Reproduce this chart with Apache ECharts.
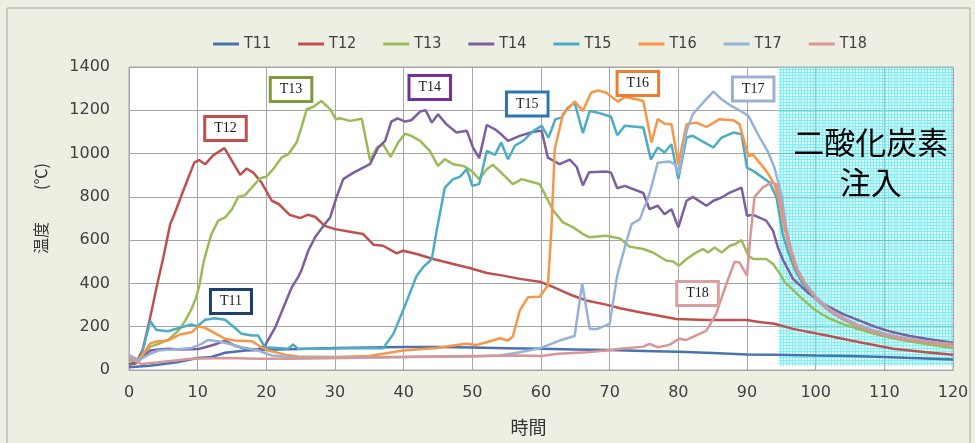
<!DOCTYPE html>
<html>
<head>
<meta charset="utf-8">
<script src="https://cdn.jsdelivr.net/npm/echarts@6/dist/echarts.min.js"></script>
<style>
html,body{margin:0;padding:0;background:#ECEFE1;}
#chart{width:975px;height:443px;}
</style>
</head>
<body>
<div id="chart"></div>
<script>
// Sensor names and temperature readings [minutes, °C]
const sensorNames = ['T11', 'T12', 'T13', 'T14', 'T15', 'T16', 'T17', 'T18'];
const xTicks = { min: 0, max: 120, step: 10 };
const yTicks = { min: 0, max: 1400, step: 200 };
const co2Start = 94.6;  // CO2 injection begins (minutes)

const T11 = [[0,13],[3,20],[7,36],[10,55],[12,60],[14,80],[17,90],[20,94],[25,97],[30,102],[35,104],[40,106],[45,106],[50,104],[55,101],[60,98],[65,95],[70,92],[75,88],[80,84],[85,78],[90,72],[94,70],[100,67],[105,65],[110,60],[115,54],[120,48]];

const T12 = [[0,25],[1,30],[2,95],[3,230],[4,380],[5,520],[6,674],[6.7,728],[7.9,828],[9.5,958],[10.2,970],[11.1,951],[12.3,993],[13.9,1025],[16.2,902],[17.1,931],[18.1,912],[19.3,866],[20.8,782],[21.8,767],[23.4,717],[24.9,702],[26,717],[27.1,708],[28.5,666],[30,651],[32.6,636],[34.1,628],[35.6,579],[37,574],[39,539],[39.9,551],[41.9,536],[44.3,513],[47.2,490],[49.6,471],[52.1,448],[54.5,436],[56.9,421],[59.8,408],[61.3,390],[64.6,344],[66.6,321],[69.5,302],[71.5,285],[74.4,267],[75.8,259],[79.7,236],[84.1,231],[89.9,231],[91.8,222],[94,214],[96.7,190],[101.6,159],[106.4,128],[111.3,98],[116.1,82],[120,71]];

const T13 = [[0,40],[1.4,52],[3.1,108],[4.3,121],[5.7,139],[7.2,182],[8.2,228],[9.1,282],[9.8,336],[10.3,398],[10.8,490],[11.3,551],[12,628],[13,690],[14,705],[15,743],[15.9,800],[16.9,808],[18.1,851],[19.1,886],[20,893],[21,928],[22.2,981],[23.2,997],[24.4,1051],[25.1,1120],[25.9,1205],[26.8,1215],[28,1243],[29.3,1205],[30.1,1159],[30.7,1163],[32.2,1151],[33.9,1161],[35.1,969],[36.1,1028],[37,1043],[38.1,985],[39.2,1051],[40.2,1092],[41.1,1082],[42.4,1059],[43.8,1012],[45,943],[46,974],[47.2,951],[48.7,943],[49.9,920],[51,882],[52.1,928],[53,948],[54.2,912],[55.9,859],[57.2,882],[58.9,866],[59.8,859],[61.8,736],[63.2,682],[64.7,659],[66.1,628],[67.1,613],[69.5,620],[71.5,608],[72.9,570],[74.9,559],[76.3,543],[78.3,505],[79.2,502],[80.1,482],[81.2,513],[82.6,543],[83.6,559],[84.3,543],[85.3,566],[86.3,543],[87.5,574],[88.3,582],[89.2,600],[90.2,528],[90.9,513],[92.8,513],[93.8,490],[94.8,444],[95.5,405],[96.2,385],[98,330],[100,275],[102,238],[104,212],[106,192],[108,172],[110,156],[112,142],[114,131],[116,120],[118,111],[120,102]];

const T14 = [[0,25],[1.4,44],[3.1,90],[4.3,95],[5.7,98],[7.4,95],[9.1,96],[10.1,97],[11.1,105],[12.5,118],[14,136],[15.4,113],[16.9,98],[18.8,95],[19.8,113],[21.3,197],[22.7,305],[23.7,382],[24.6,428],[25.1,459],[26.1,551],[27.1,613],[28.5,674],[29.3,705],[30.2,797],[31.2,882],[32.7,912],[34.1,935],[35.1,951],[36.3,1028],[37.3,1059],[38.2,1148],[39.1,1163],[40.2,1148],[41.1,1154],[42.4,1194],[43.2,1200],[44.1,1143],[45,1182],[46.2,1136],[47.7,1097],[49.2,1105],[50.1,1028],[51,979],[52.1,1132],[53.3,1112],[54.2,1089],[55.2,1059],[56.9,1082],[58.9,1101],[60.1,1105],[61,981],[62.7,951],[64.2,972],[65.2,938],[66.1,853],[67,914],[69.5,917],[70.2,912],[71.1,840],[72.2,851],[74.9,818],[75.8,743],[77,759],[78,720],[79,743],[80,659],[81.2,782],[82.1,800],[84.1,759],[85.1,782],[86.3,797],[87.5,820],[89.2,843],[90,713],[90.9,717],[92.8,690],[93.8,643],[94.5,566],[95.3,505],[96.7,421],[99.1,351],[101.6,297],[104,258],[106.4,228],[108.8,198],[111.3,174],[113.7,157],[116.1,144],[120,126]];

const T15 = [[0,65],[1.6,44],[3.1,225],[4,185],[5.7,179],[7.4,195],[9.1,210],[9.9,201],[11.1,232],[12.5,239],[14,232],[15.4,195],[16.4,167],[17.9,159],[18.8,159],[19.8,105],[23.2,98],[23.9,118],[24.6,98],[28,98],[31.4,101],[35,100],[37,100],[38.5,167],[39.9,274],[41.9,436],[42.8,474],[44.1,513],[44.8,643],[46,843],[47.2,882],[48.2,893],[49.2,928],[50,851],[51,859],[52.1,1012],[53.3,994],[54.2,1051],[55.2,974],[56.2,1036],[57.4,1059],[58.9,1105],[60.1,1128],[61.1,1074],[62.1,1159],[63,1166],[63.9,1212],[64.9,1235],[66.1,1095],[67.1,1197],[68.3,1189],[70.2,1170],[71.1,1085],[72.2,1128],[74.9,1120],[76,972],[77,1028],[78,1005],[79,1043],[80,882],[81.2,1074],[82.1,1082],[85.1,1028],[86.3,1074],[88,1097],[89.2,1089],[90,935],[90.9,920],[93.3,866],[94.3,797],[95.2,628],[96,545],[97,462],[98,405],[100,328],[102,272],[104,234],[106,204],[108,181],[110,163],[112,149],[114,138],[116,129],[118,122],[120,115]];

const T16 = [[0,60],[1.5,45],[3.1,124],[4.3,133],[5.7,136],[7.4,164],[9.1,174],[10.1,201],[11.1,195],[12.5,170],[14,144],[15.4,136],[17.9,133],[19.3,105],[20.3,90],[22.7,71],[24.6,62],[30,60],[35,65],[37,75],[39.9,90],[44.8,102],[47.2,113],[49.1,121],[50.6,116],[52.1,128],[54,147],[55.2,136],[55.9,155],[56.9,274],[58.1,336],[59.8,339],[61,390],[61.5,640],[62,1020],[63.2,1182],[64.9,1240],[66.1,1197],[67.3,1281],[68.3,1292],[69.5,1281],[71.2,1240],[72.2,1261],[73.9,1251],[74.9,1243],[76.1,1051],[77,1159],[78,1138],[79,1136],[80,951],[81.2,1136],[82.6,1143],[84.1,1123],[86,1159],[88,1154],[88.9,1136],[90.2,989],[90.9,994],[92.8,920],[94,859],[94.8,767],[95.5,650],[96.2,560],[97,480],[98,418],[100,336],[102,279],[104,240],[106,209],[108,185],[110,167],[112,152],[114,141],[116,133],[118,126],[120,120]];

const T17 = [[0,70],[1.4,44],[3.1,75],[4.3,90],[5.7,93],[9.1,102],[10.6,121],[11.5,139],[13,133],[14.5,121],[16.4,105],[18.8,90],[20.8,67],[23.7,59],[30,58],[40,60],[50,62],[54,67],[56.9,82],[59.8,100],[62.7,136],[64.9,157],[66,400],[67.1,190],[68.2,190],[70,213],[71.1,436],[72.4,590],[73.2,674],[74.4,697],[75.8,813],[77,958],[78.7,963],[79.5,951],[80.1,905],[81.2,1105],[82.1,1182],[83.6,1235],[85.1,1286],[86.3,1251],[87.7,1220],[88.9,1200],[90.2,1174],[91.6,1089],[93.1,1005],[94,935],[95,813],[95.7,660],[96.5,550],[97.3,470],[98.5,400],[100,340],[102,282],[104,242],[106,211],[108,187],[110,169],[112,154],[114,142],[116,133],[118,125],[120,118]];

const T18 = [[0,55],[1.8,28],[4.3,36],[9.1,52],[14,56],[18.8,52],[23.7,52],[31.4,56],[44,62],[56.9,67],[60,65],[62.5,75],[66.6,82],[69.5,90],[71.5,98],[74.9,108],[75.8,121],[77,105],[78.7,116],[80.1,144],[81.2,139],[84.1,182],[85.5,259],[87,398],[88.2,500],[88.9,497],[90,436],[90.5,620],[91.1,800],[92.3,843],[93.5,866],[94.3,859],[95,760],[95.7,640],[96.5,540],[97.3,465],[98.5,398],[100,330],[102,274],[104,235],[106,205],[108,181],[110,163],[112,149],[114,138],[116,129],[118,121],[120,113]];

const sensorData = [T11, T12, T13, T14, T15, T16, T17, T18];
const lineColors = ['#4A72AE', '#C0504D', '#9BBB59', '#7D5FA0', '#4BACC6', '#F79646', '#95B3D7', '#D99694'];
const boxColors  = ['#1F3F6E', '#C0504D', '#7F9A3C', '#7030A0', '#2E75B6', '#ED7D31', '#9DB0CE', '#D9A0A0'];
// callout anchor for each sensor tag, in axis units
const tagAt = [[14.85,316],[14.05,1116],[23.6,1296],[43.8,1305],[58.0,1229],[74.1,1324],[90.9,1298],[82.8,353]];

// small tiled texture for the CO2 injection window
function hatch() {
  const c = document.createElement('canvas');
  c.width = 3; c.height = 3;
  const g = c.getContext('2d');
  g.fillStyle = 'rgba(40,232,242,0.62)';
  g.fillRect(0, 0, 3, 3);
  g.clearRect(1, 1, 2, 2);
  g.fillStyle = 'rgba(190,250,252,0.35)';
  g.fillRect(1, 1, 2, 2);
  return c;
}

const chart = echarts.init(document.getElementById('chart'), null, { renderer: 'canvas' });

const series = sensorNames.map((name, i) => ({
  name,
  type: 'line',
  data: sensorData[i],
  showSymbol: false,
  symbol: 'none',
  z: 2,
  lineStyle: { width: 2.5, color: lineColors[i] },
  itemStyle: { color: lineColors[i] },
  markPoint: {
    symbol: 'circle',
    symbolSize: 0,
    silent: true,
    data: [{ coord: tagAt[i] }],
    label: {
      show: true,
      position: 'inside',
      formatter: name,
      fontFamily: 'Liberation Serif',
      fontSize: 14,
      color: '#1a1a1a',
      backgroundColor: '#ffffff',
      borderColor: boxColors[i],
      borderWidth: 3,
      padding: [4, 8, 3, 8]
    }
  }
}));

series.push({
  name: 'co2',
  type: 'line',
  data: [],
  z: 5,
  silent: true,
  markArea: {
    silent: true,
    itemStyle: { color: { image: hatch(), repeat: 'repeat' } },
    label: {
      show: true,
      position: 'inside',
      formatter: '二酸化炭素\n注入',
      fontFamily: 'Noto Sans CJK JP',
      fontSize: 31,
      lineHeight: 40,
      color: '#000',
      offset: [5, -54]
    },
    data: [[{ xAxis: co2Start, yAxis: 20 }, { xAxis: xTicks.max, yAxis: yTicks.max }]]
  }
});

chart.setOption({
  animation: false,
  backgroundColor: '#ECEFE1',
  graphic: [{
    type: 'rect',
    shape: { x: 7, y: 8, width: 963, height: 440 },
    style: { fill: 'none', stroke: '#A8A8A8', lineWidth: 1 },
    z: -10
  }],
  legend: {
    data: sensorNames,
    left: 208,
    top: 31,
    itemWidth: 26,
    itemHeight: 3,
    itemGap: 27,
    icon: 'rect',
    textStyle: { fontFamily: 'DejaVu Sans Condensed', fontSize: 16, color: '#404040' }
  },
  grid: {
    left: 129, right: 22, top: 67, bottom: 73,
    show: true, backgroundColor: '#ffffff', borderColor: '#A6A6A6', borderWidth: 1
  },
  xAxis: {
    type: 'value',
    min: xTicks.min, max: xTicks.max, interval: xTicks.step,
    name: '時間',
    nameLocation: 'middle',
    nameGap: 48,
    nameTextStyle: { fontFamily: 'Noto Sans CJK JP', fontSize: 18, color: '#333', padding: [0, 25, 0, 0] },
    axisLine: { lineStyle: { color: '#A6A6A6' } },
    axisTick: { show: false },
    axisLabel: { fontFamily: 'DejaVu Sans', fontSize: 16, color: '#404040', margin: 15 },
    splitLine: { lineStyle: { color: '#A6A6A6', width: 1 } }
  },
  yAxis: {
    type: 'value',
    min: yTicks.min, max: yTicks.max, interval: yTicks.step,
    name: '温度　　(℃)',
    nameLocation: 'middle',
    nameRotate: 90,
    nameGap: 80,
    nameTextStyle: { fontFamily: 'Noto Sans CJK JP', fontSize: 16, color: '#333', padding: [0, 0, 0, 20] },
    axisLine: { show: true, lineStyle: { color: '#A6A6A6' } },
    axisTick: { show: false },
    axisLabel: { fontFamily: 'DejaVu Sans', fontSize: 16, color: '#404040', margin: 19, formatter: v => String(v) },
    splitLine: { lineStyle: { color: '#A6A6A6', width: 1 } }
  },
  series
});
</script>
</body>
</html>
